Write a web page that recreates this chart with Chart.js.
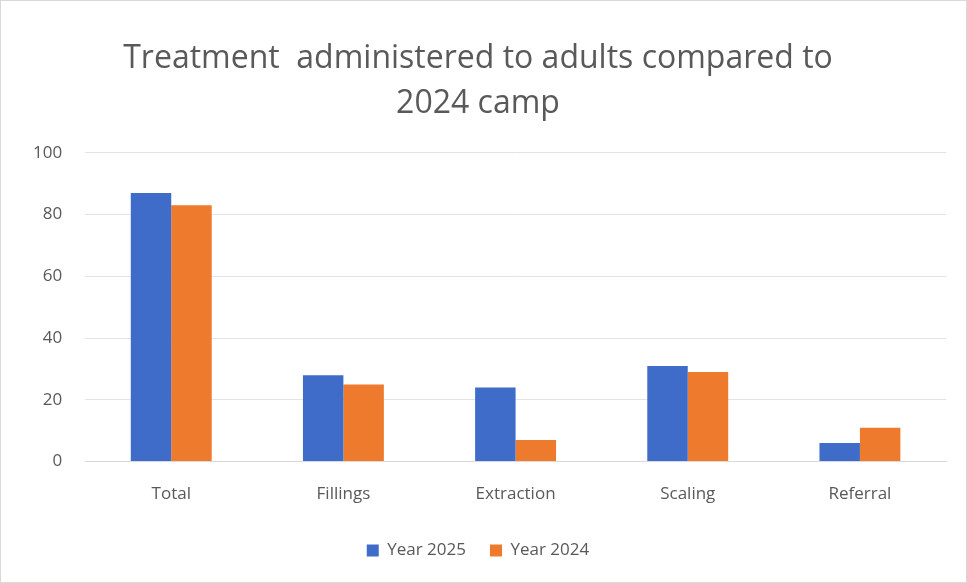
<!DOCTYPE html>
<html>
<head>
<meta charset="utf-8">
<script src="https://cdn.jsdelivr.net/npm/chart.js@4"></script>
<style>
    html, body { margin: 0; padding: 0; background: #ffffff; }
    #wrap {
        width: 965px; height: 581px;
        border: 1px solid #d9d9d9;
        position: relative;
    }
</style>
</head>
<body>
<div id="wrap"><canvas id="chart" width="965" height="581"></canvas></div>
<script>
// カテゴリとデータ
const categories = ['Total', 'Fillings', 'Extraction', 'Scaling', 'Referral'];
const year2025 = [87, 28, 24, 31, 6];
const year2024 = [83, 25, 7, 29, 11];
const yTicks = [0, 20, 40, 60, 80, 100];

const textColor = '#595959';
const fontFamily = '"Open Sans", "Liberation Sans", sans-serif';

const ctx = document.getElementById('chart').getContext('2d');
new Chart(ctx, {
    type: 'bar',
    data: {
        labels: categories,
        datasets: [
            {
                label: 'Year 2025',
                data: year2025,
                backgroundColor: '#3F6BC9',
                barPercentage: 1,
                categoryPercentage: 0.47
            },
            {
                label: 'Year 2024',
                data: year2024,
                backgroundColor: '#EE7A2D',
                barPercentage: 1,
                categoryPercentage: 0.47
            }
        ]
    },
    options: {
        responsive: false,
        animation: false,
        layout: { padding: { left: 9, right: 20, top: 23, bottom: 13 } },
        scales: {
            x: {
                grid: { display: false },
                border: { color: '#d9d9d9' },
                ticks: { color: textColor, font: { family: fontFamily, size: 17 }, padding: 14 }
            },
            y: {
                min: 0,
                max: 100,
                afterBuildTicks: axis => { axis.ticks = yTicks.map(v => ({ value: v })); },
                grid: { color: '#e3e3e3', drawTicks: false },
                border: { display: false },
                ticks: { color: textColor, font: { family: fontFamily, size: 17 }, padding: 23 }
            }
        },
        plugins: {
            title: {
                display: true,
                text: ['Treatment  administered to adults compared to', '2024 camp'],
                color: textColor,
                font: { family: fontFamily, size: 32, weight: 'normal', lineHeight: 1.42 },
                padding: { top: 12, bottom: 26 }
            },
            legend: {
                position: 'bottom',
                labels: {
                    color: textColor,
                    font: { family: fontFamily, size: 17 },
                    boxWidth: 12,
                    boxHeight: 12,
                    padding: 24
                }
            },
            tooltip: { enabled: false }
        }
    }
});
</script>
</body>
</html>
